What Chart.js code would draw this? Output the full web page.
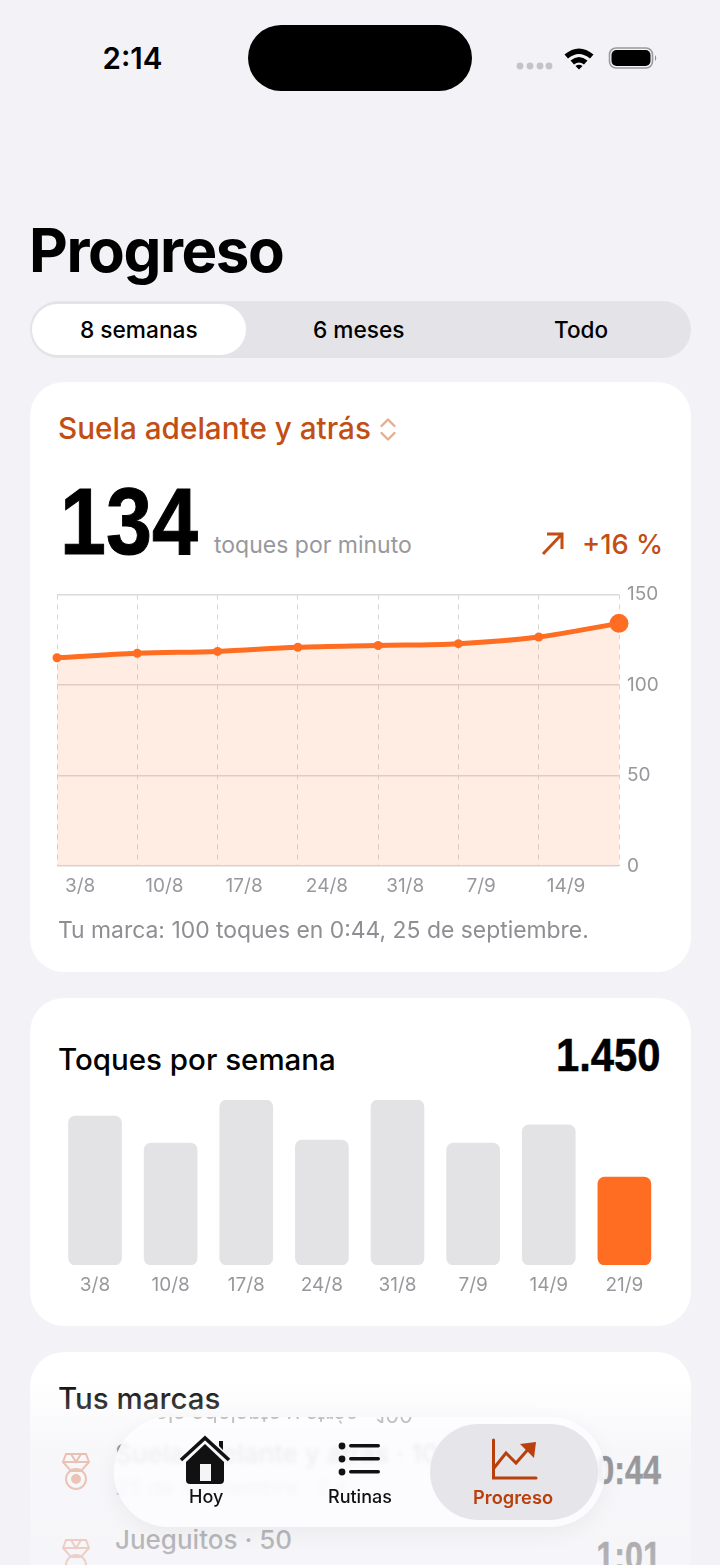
<!DOCTYPE html>
<html><head><meta charset="utf-8">
<script src="https://cdn.jsdelivr.net/npm/chart.js@4"></script>
<style>
html,body{margin:0;padding:0;background:#F2F2F7;}
body{width:720px;height:1565px;position:relative;overflow:hidden;font-family:Inter,sans-serif;color:#000;}
.a{position:absolute;white-space:nowrap;line-height:1;}
.card{position:absolute;left:30px;width:661px;background:#fff;border-radius:34px;}
canvas{position:absolute;display:block;}
.num{font-family:"Liberation Sans",sans-serif;font-weight:700;-webkit-text-stroke:1px currentColor;}
.num.s{-webkit-text-stroke:.5px currentColor;}
</style></head><body>

<div class="a" style="left:102.5px;top:44px;font-size:29.5px;font-weight:600;">2:14</div>
<div style="position:absolute;left:248px;top:25px;width:224px;height:66px;border-radius:33px;background:#000;"></div>
<svg style="position:absolute;left:510px;top:40px" width="150" height="36" viewBox="0 0 150 36">
  <g fill="#c4c4c8"><circle cx="10" cy="26" r="3.4"/><circle cx="20" cy="26" r="3.4"/><circle cx="30" cy="26" r="3.4"/><circle cx="39" cy="26" r="3.4"/></g>
  <path d="M54.5 14.5 Q69 2.5 83.5 14.5 L80 18.5 Q69 9.5 58 18.5Z M60.5 20.5 Q69 13.5 77.5 20.5 L74 24.5 Q69 20.5 64 24.5Z M65.5 26 Q69 23.5 72.5 26 L69 29.5Z" fill="#000"/>
  <rect x="99.5" y="8" width="43" height="20" rx="6.5" fill="none" stroke="#9b9b9e" stroke-width="1.6"/>
  <rect x="101.5" y="10" width="39" height="16" rx="5" fill="#000"/>
  <path d="M145 15 Q147.5 18 145 21Z" fill="#8e8e92"/>
</svg>

<div class="a" style="left:29px;top:220px;font-size:60px;font-weight:700;letter-spacing:-1.4px;">Progreso</div>

<div style="position:absolute;left:30px;top:301px;width:661px;height:57px;border-radius:28.5px;background:#E3E3E8;"></div>
<div style="position:absolute;left:32px;top:304px;width:214px;height:51px;border-radius:25.5px;background:#fff;"></div>
<div class="a" style="left:80px;top:319px;font-size:22.7px;font-weight:500;">8 semanas</div>
<div class="a" style="left:313px;top:319px;font-size:22.7px;font-weight:500;">6 meses</div>
<div class="a" style="left:554px;top:319px;font-size:22.5px;font-weight:500;">Todo</div>

<div class="card" style="top:382px;height:590px;"></div>
<div class="a" style="left:58px;top:414px;font-size:29.7px;font-weight:500;color:#C24E14;">Suela adelante y atrás</div>
<svg style="position:absolute;left:378px;top:416px" width="20" height="28" viewBox="0 0 20 28"><path d="M3.5 10 L10 3.5 L16.5 10 M3.5 17 L10 23.5 L16.5 17" fill="none" stroke="#E5AE90" stroke-width="2.4" stroke-linecap="round" stroke-linejoin="round"/></svg>
<div class="a num" style="left:60px;top:474px;font-size:95px;transform:scaleX(.87);transform-origin:left center;">134</div>
<div class="a" style="left:214px;top:534px;font-size:23px;color:#98989C;">toques por minuto</div>
<svg style="position:absolute;left:538px;top:530px" width="30" height="28" viewBox="0 0 30 28"><path d="M5 24 L24 4 M9 4 H24 V19" fill="none" stroke="#C24E14" stroke-width="3"/></svg>
<div class="a" style="left:582px;top:531px;font-size:27.3px;font-weight:500;color:#C24E14;">+16 %</div>

<canvas id="line" style="left:30px;top:575px;width:661px;height:345px;" width="661" height="345"></canvas>
<div class="a" style="left:58px;top:919px;font-size:22.9px;color:#8E8E93;">Tu marca: 100 toques en 0:44, 25 de septiembre.</div>

<div class="card" style="top:998px;height:328px;"></div>
<div class="a" style="left:58px;top:1045px;font-size:29.5px;font-weight:500;">Toques por semana</div>
<div class="a num s" style="right:59px;top:1031px;font-size:47px;transform:scaleX(.89);transform-origin:right center;">1.450</div>
<canvas id="bars" style="left:30px;top:1090px;width:661px;height:215px;" width="661" height="215"></canvas>

<div class="card" style="top:1352px;height:300px;"></div>
<div class="a" style="left:58px;top:1384px;font-size:29.5px;font-weight:500;">Tus marcas</div>
<svg style="position:absolute;left:60px;top:1452px" width="32" height="40" viewBox="0 0 32 40"><g fill="none" stroke="#E07A50" stroke-width="2"><path d="M6 2 H26 L29 10 L21 19 H11 L3 10Z M11 2 L16 10 L21 2 M3 10 H29"/><circle cx="16" cy="27" r="10"/><circle cx="16" cy="27" r="4" fill="#E07A50"/></g></svg>
<div class="a" style="left:115px;top:1441px;font-size:26px;font-weight:500;color:#333;">Suela adelante y atrás · 100</div>
<div class="a" style="left:115px;top:1476px;font-size:22px;color:#98989C;">25 de septiembre · 2 x</div>
<div class="a num s" style="right:59px;top:1450px;font-size:40px;color:#111;transform:scaleX(.81);transform-origin:right center;">0:44</div>
<svg style="position:absolute;left:60px;top:1538px" width="32" height="40" viewBox="0 0 32 40"><g fill="none" stroke="#E07A50" stroke-width="2"><path d="M6 2 H26 L29 10 L21 19 H11 L3 10Z M11 2 L16 10 L21 2 M3 10 H29"/><circle cx="16" cy="27" r="10"/></g></svg>
<div class="a" style="left:115px;top:1527px;font-size:26px;font-weight:500;color:#333;">Jueguitos · 50</div>
<div class="a num s" style="right:59px;top:1536px;font-size:40px;color:#111;transform:scaleX(.81);transform-origin:right center;">1:01</div>

<div style="position:absolute;left:0;top:1375px;width:720px;height:190px;background:linear-gradient(to bottom,rgba(242,242,247,0),rgba(242,242,247,.58) 40%,rgba(242,242,247,.72));"></div>

<div style="position:absolute;left:114px;top:1417px;width:491px;height:110px;border-radius:55px;background:rgba(253,253,255,.84);backdrop-filter:blur(2.2px);box-shadow:0 6px 22px rgba(0,0,0,.05);overflow:hidden;">
  <div class="a" style="left:14px;top:-13px;font-size:22px;color:#999;transform:scaleY(-1);opacity:.6;filter:blur(.5px);">Suela adelante y atrás · 100</div>
</div>
<div style="position:absolute;left:430px;top:1424px;width:168px;height:96px;border-radius:48px;background:#E6E6EA;"></div>
<svg style="position:absolute;left:178px;top:1434px" width="54" height="50" viewBox="0 0 54 50">
  <path d="M3 26 L27 4 L51 26" fill="none" stroke="#111" stroke-width="3.6"/>
  <path d="M41 12 V7 H45 V16Z" fill="#111"/>
  <path d="M8 28 L27 10 L46 28 V46 Q46 50 42 50 H12 Q8 50 8 46Z" fill="#111"/>
  <rect x="22" y="30" width="11" height="17" fill="#F5F5F8"/>
</svg>
<svg style="position:absolute;left:336px;top:1440px" width="46" height="38" viewBox="0 0 46 38"><g fill="#111"><circle cx="6" cy="6" r="3.4"/><circle cx="6" cy="19" r="3.4"/><circle cx="6" cy="32" r="3.4"/><rect x="13" y="4" width="31" height="3.4" rx="1.7"/><rect x="13" y="17" width="31" height="3.4" rx="1.7"/><rect x="13" y="30" width="31" height="3.4" rx="1.7"/></g></svg>
<svg style="position:absolute;left:488px;top:1438px" width="52" height="44" viewBox="0 0 52 44">
  <path d="M5.5 2 V40 H48" fill="none" stroke="#B93F0C" stroke-width="3" stroke-linecap="round"/>
  <path d="M6 30 L18 15 L28 25 L43 8" fill="none" stroke="#B93F0C" stroke-width="3"/>
  <path d="M32 6 L48 4 L46 20Z" fill="#B93F0C"/>
</svg>
<div class="a" style="left:189px;top:1488px;font-size:18px;font-weight:500;color:#111;">Hoy</div>
<div class="a" style="left:328px;top:1488px;font-size:18px;font-weight:500;color:#111;">Rutinas</div>
<div class="a" style="left:473px;top:1488px;font-size:18.3px;font-weight:600;color:#B93F0C;">Progreso</div>

<script>
const lineWeeks=["3/8","10/8","17/8","24/8","31/8","7/9","14/9","21/9"];
const lineValues=[115,117.5,118.5,120.8,121.8,122.8,126.5,134];
const yTicks=[0,50,100,150];
const barWeeks=["3/8","10/8","17/8","24/8","31/8","7/9","14/9","21/9"];
const barValues=[2455,2010,2720,2060,2720,2010,2310,1450];
const orange="#FF6D22";
Chart.defaults.font.family="Inter, sans-serif";
Chart.defaults.animation=false;
Chart.defaults.responsive=false;
Chart.defaults.plugins.legend.display=false;
Chart.defaults.plugins.tooltip.enabled=false;

new Chart(document.getElementById("line"),{
  type:"line",
  data:{labels:lineWeeks,datasets:[{
    data:lineValues,borderColor:orange,borderWidth:5,backgroundColor:"rgba(255,109,34,.125)",fill:"origin",
    cubicInterpolationMode:"monotone",clip:false,
    pointBackgroundColor:orange,pointBorderWidth:0,
    pointRadius:lineValues.map((v,i)=>i===lineValues.length-1?9.5:4.5)
  }]},
  options:{
    layout:{padding:{left:27,right:0,top:14,bottom:0}},
    scales:{
      x:{offset:false,
        afterFit(s){s.height=54;},
        grid:{display:true,color:"#D6D6D6",lineWidth:1,drawTicks:false},
        border:{display:false,dash:[5,5]},
        ticks:{align:"start",labelOffset:8,padding:9,maxRotation:0,autoSkip:false,color:"#98989C",font:{size:19},
          callback(v,i){return i===lineWeeks.length-1?"":lineWeeks[i];}}
      },
      y:{position:"right",min:0,max:150,
        afterFit(s){s.width=72;},
        afterBuildTicks(s){s.ticks=yTicks.map(v=>({value:v}));},
        grid:{color:"#DEDAD8",lineWidth:1.6,drawTicks:false},
        border:{display:false},
        ticks:{padding:8,color:"#98989C",font:{size:19},align:"center"}
      }
    }
  }
});

new Chart(document.getElementById("bars"),{
  type:"bar",
  data:{labels:barWeeks,datasets:[{
    data:barValues,barThickness:53,borderRadius:7,borderSkipped:false,
    backgroundColor:barValues.map((v,i)=>i===barValues.length-1?orange:"#E3E3E6")
  }]},
  options:{
    layout:{padding:{left:27.2,right:28.8,top:10,bottom:0}},
    scales:{
      x:{afterFit(s){s.height=40;},grid:{display:false},border:{display:false},
        ticks:{padding:1,maxRotation:0,autoSkip:false,color:"#98989C",font:{size:19}}},
      y:{display:false,min:0,max:2720}
    }
  }
});
</script>
</body></html>
